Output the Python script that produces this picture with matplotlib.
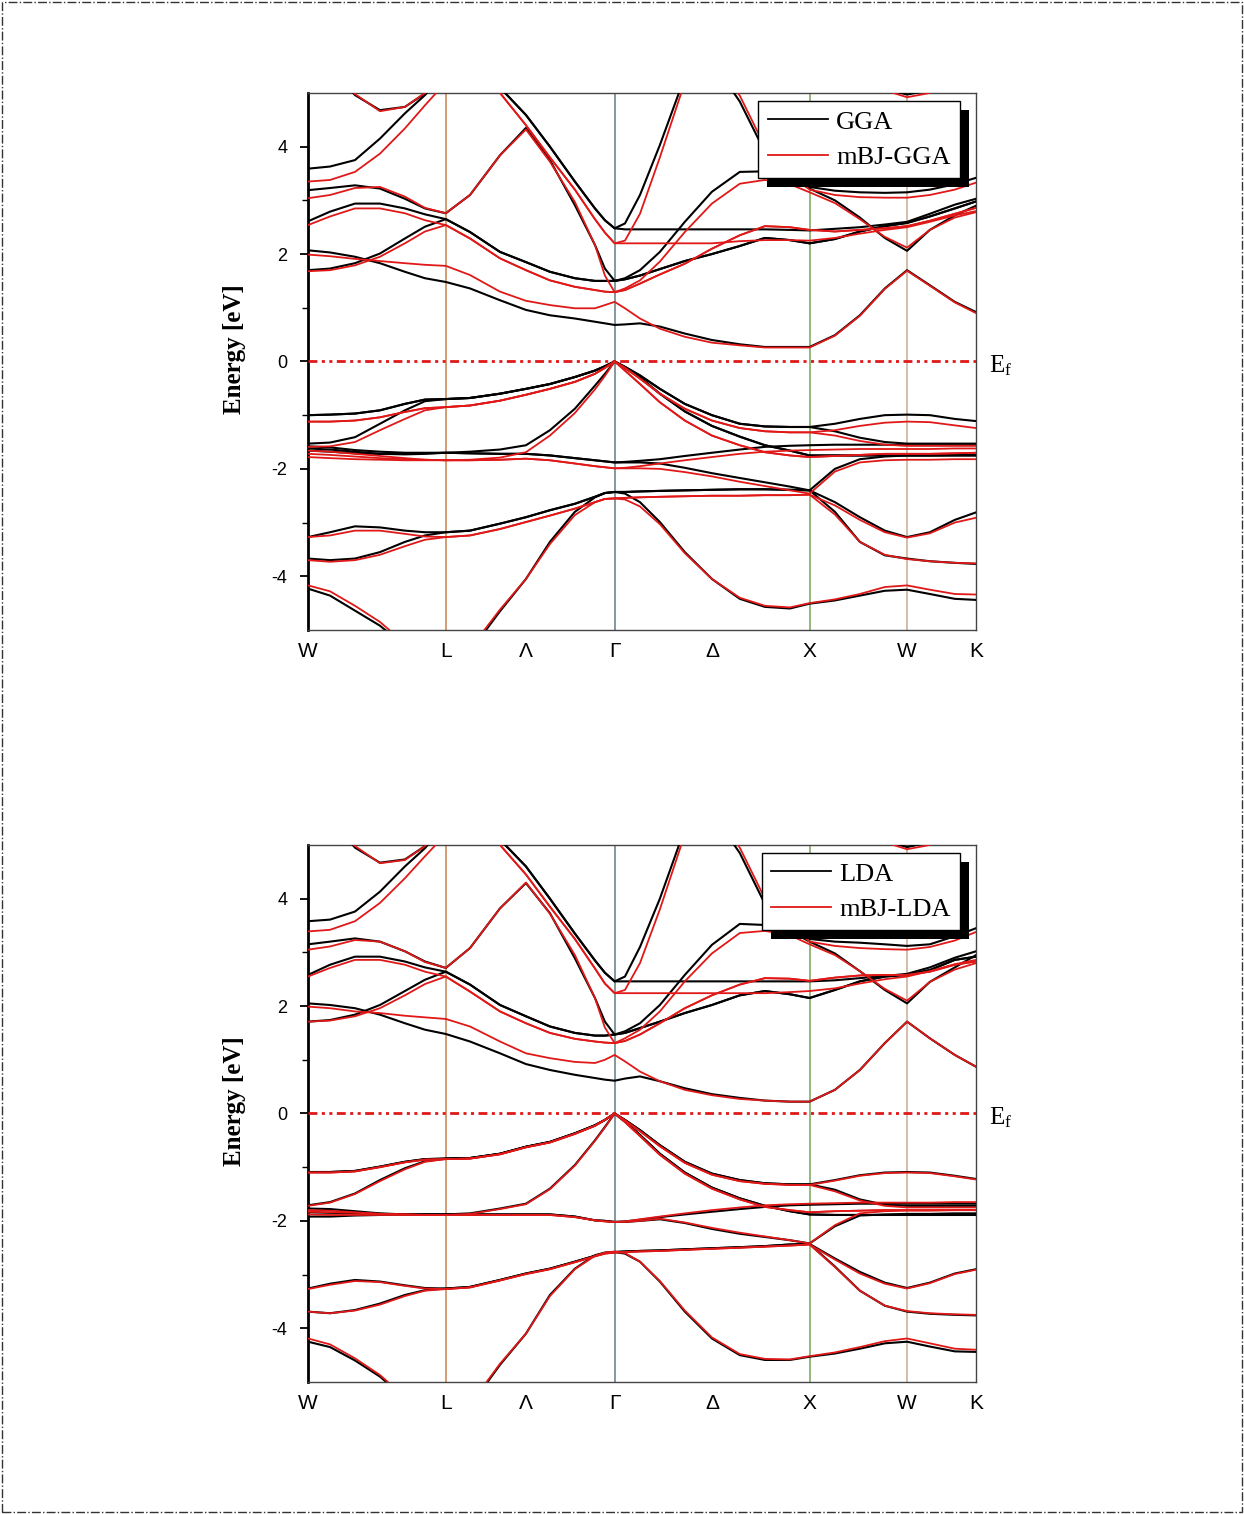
import numpy as np
import matplotlib
matplotlib.use("Agg")
import matplotlib.pyplot as plt
from matplotlib.lines import Line2D
from matplotlib.patches import Rectangle
from matplotlib.transforms import IdentityTransform

nan = np.nan

# k-path W-L-G-X-W-K (2pi/a units), sampling points along the path
k_path = [0.000, 0.113, 0.241, 0.369, 0.497, 0.600, 0.707,
          0.831, 0.985, 1.118, 1.241, 1.369, 1.472, 1.523, 1.573,
          1.626, 1.703, 1.805, 1.933, 2.072, 2.215, 2.344, 2.472, 2.573,
          2.703, 2.831, 2.959, 3.073, 3.190, 3.318, 3.427]
hs_k = [0.0, 0.707, 1.118, 1.573, 2.072, 2.573, 3.073, 3.427]
hs_labels = ['W', 'L', 'Λ', 'Γ', 'Δ', 'X', 'W', 'K']

# ---------------- GGA (top, black) ----------------
gga_v1 = [-4.23, -4.36, -4.64, -4.92, -5.30, -5.60, -5.80,
          -5.40, -4.65, -4.05, -3.36, -2.80, -2.53, -2.45, -2.43,
          -2.46, -2.62, -2.99, -3.55, -4.05, -4.42, -4.57, -4.60, -4.51,
          -4.45, -4.36, -4.27, -4.25, -4.33, -4.42, -4.44]
gga_v2 = [-3.67, -3.70, -3.67, -3.55, -3.36, -3.24, -3.18,
          -3.15, -3.02, -2.90, -2.77, -2.65, -2.52, -2.45, -2.43,
          -2.43, -2.42, -2.41, -2.40, -2.39, -2.38, -2.38, -2.39, -2.40,
          -2.80, -3.36, -3.61, -3.67, -3.72, -3.75, -3.77]
gga_v3 = [-3.27, -3.18, -3.07, -3.09, -3.15, -3.18, -3.18] + gga_v2[7:24] + \
         [-2.62, -2.90, -3.15, -3.27, -3.18, -2.95, -2.81]
gga_v4 = [-1.66, -1.68, -1.71, -1.72, -1.72, -1.71, -1.70,
          -1.71, -1.72, -1.72, -1.75, -1.80, -1.84, -1.86, -1.88,
          -1.88, -1.88, -1.90, -1.98, -2.08, -2.17, -2.25, -2.33, -2.40,
          -2.00, -1.82, -1.77, -1.75, -1.75, -1.74, -1.74]
gga_v5 = [-1.62, -1.64, -1.68, -1.72, -1.73, -1.72, -1.70,
          -1.71, -1.72, -1.72, -1.75, -1.80, -1.84, -1.86, -1.88,
          -1.87, -1.85, -1.82, -1.76, -1.70, -1.64, -1.59, -1.57, -1.56,
          -1.55, -1.55, -1.55, -1.56, -1.56, -1.56, -1.56]
gga_v6 = [-1.53, -1.51, -1.41, -1.16, -0.91, -0.74, -0.70,
          -0.68, -0.60, -0.51, -0.42, -0.29, -0.17, -0.09, 0.00,
          -0.12, -0.30, -0.60, -0.93, -1.20, -1.40, -1.56, -1.66, -1.75,
          -1.75, -1.75, -1.75, -1.75, -1.75, -1.75, -1.75]
gga_v7 = [-1.58, -1.60, -1.65, -1.68, -1.70, -1.70, -1.70,
          -1.68, -1.64, -1.56, -1.28, -0.88, -0.45, -0.23, 0.00] + gga_v6[15:]
gga_v8 = [-1.00, -0.99, -0.97, -0.91, -0.79, -0.71, -0.70,
          -0.68, -0.60, -0.51, -0.42, -0.29, -0.17, -0.09, 0.00,
          -0.10, -0.26, -0.51, -0.79, -1.00, -1.16, -1.21, -1.22, -1.22,
          -1.16, -1.07, -1.00, -0.99, -1.00, -1.07, -1.11]
gga_v9 = gga_v8[:24] + [-1.30, -1.42, -1.50, -1.53, -1.53, -1.53, -1.53]

gga_c1 = [2.07, 2.03, 1.95, 1.83, 1.67, 1.55, 1.48,
          1.36, 1.14, 0.96, 0.86, 0.80, 0.74, 0.71, 0.68,
          0.69, 0.71, 0.65, 0.52, 0.40, 0.32, 0.27, 0.27, 0.27,
          0.49, 0.86, 1.36, 1.70, 1.42, 1.11, 0.92]
gga_c2 = [1.70, 1.73, 1.83, 2.01, 2.29, 2.51, 2.65,
          2.41, 2.04, 1.85, 1.67, 1.55, 1.50, 1.50, 1.50,
          1.53, 1.60, 1.72, 1.87, 2.00, 2.15, 2.30, 2.26, 2.20,
          2.28, 2.42, 2.52, 2.58, 2.70, 2.85, 2.98]
gga_c3 = [2.61, 2.79, 2.94, 2.94, 2.85, 2.74, 2.65] + gga_c2[7:15] + \
         [1.55, 1.70, 2.04, 2.60, 3.16, 3.53, 3.54, 3.42, 3.22,
          3.00, 2.68, 2.30, 2.06, 2.45, 2.72, 2.90]
gga_c4 = [3.19, 3.23, 3.28, 3.22, 3.03, 2.85, 2.76,
          3.10, 3.84, 4.35, 3.75, 2.91, 2.17, 1.73, 1.50] + gga_c2[15:]
gga_c5 = [nan] * 6 + [6.2, 5.7, 5.1, 4.59, 4.00, 3.35, 2.85, 2.63, 2.48,
                      2.46, 2.46, 2.46, 2.46, 2.46, 2.46, 2.46, 2.45, 2.44,
                      2.47, 2.50, 2.55, 2.60, 2.75, 2.92, 3.03]
gga_c6 = gga_c5[:15] + [2.57, 3.10, 4.03, 5.30] + [nan] * 12
gga_c7 = [nan] * 19 + [5.6, 4.84, 3.90, 3.45, 3.25, 3.18, 3.15, 3.14, 3.15, 3.20, 3.30, 3.42]
gga_c8 = [3.59, 3.63, 3.75, 4.15, 4.62, 4.96, 5.40] + [nan] * 24
gga_c9 = [nan, 5.50, 4.96, 4.68, 4.74, 4.99, 5.40] + [nan] * 24
gga_c10 = [nan] * 25 + [5.60, 5.08, 4.97, 5.05, 5.60, nan]

# ---------------- mBJ-GGA (top, red) ----------------
mgga_v1 = [-4.17, -4.28, -4.55, -4.85, -5.25, -5.55, -5.75,
           -5.35, -4.62, -4.05, -3.40, -2.86, -2.62, -2.56, -2.55,
           -2.57, -2.70, -3.03, -3.57, -4.05, -4.40, -4.55, -4.58, -4.50,
           -4.43, -4.33, -4.20, -4.17, -4.25, -4.33, -4.34]
mgga_v2 = [-3.70, -3.73, -3.70, -3.60, -3.44, -3.32, -3.27,
           -3.24, -3.12, -2.99, -2.87, -2.74, -2.62, -2.56, -2.55,
           -2.54, -2.53, -2.52, -2.51, -2.50, -2.50, -2.49, -2.49, -2.48,
           -2.85, -3.36, -3.60, -3.68, -3.72, -3.75, -3.76]
mgga_v3 = [-3.27, -3.24, -3.15, -3.15, -3.21, -3.26, -3.27] + mgga_v2[7:24] + \
          [-2.68, -2.95, -3.18, -3.28, -3.20, -3.00, -2.91]
mgga_v4 = [-1.78, -1.80, -1.82, -1.83, -1.84, -1.84, -1.84,
           -1.84, -1.83, -1.81, -1.84, -1.90, -1.95, -1.97, -1.99,
           -1.99, -1.99, -2.00, -2.06, -2.14, -2.24, -2.32, -2.40, -2.46,
           -2.05, -1.88, -1.84, -1.83, -1.83, -1.82, -1.82]
mgga_v5 = [-1.72, -1.74, -1.77, -1.80, -1.82, -1.83, -1.84,
           -1.84, -1.83, -1.81, -1.84, -1.90, -1.95, -1.97, -1.99,
           -1.98, -1.95, -1.90, -1.84, -1.78, -1.72, -1.68, -1.66, -1.65,
           -1.64, -1.63, -1.63, -1.63, -1.63, -1.62, -1.62]
mgga_v6 = [-1.59, -1.58, -1.50, -1.28, -1.07, -0.91, -0.85,
           -0.82, -0.73, -0.62, -0.51, -0.38, -0.23, -0.12, 0.00,
           -0.17, -0.42, -0.76, -1.10, -1.38, -1.56, -1.69, -1.75, -1.78,
           -1.76, -1.74, -1.72, -1.72, -1.72, -1.71, -1.70]
mgga_v7 = [-1.66, -1.68, -1.72, -1.76, -1.80, -1.83, -1.84,
           -1.83, -1.79, -1.69, -1.38, -0.96, -0.52, -0.27, 0.00] + mgga_v6[15:]
mgga_v8 = [-1.12, -1.12, -1.10, -1.04, -0.94, -0.87, -0.85,
           -0.82, -0.73, -0.62, -0.51, -0.38, -0.23, -0.12, 0.00,
           -0.12, -0.32, -0.60, -0.88, -1.10, -1.24, -1.30, -1.32, -1.32,
           -1.28, -1.20, -1.14, -1.12, -1.13, -1.19, -1.24]
mgga_v9 = mgga_v8[:24] + [-1.38, -1.48, -1.55, -1.57, -1.57, -1.57, -1.57]

mgga_c1 = [1.99, 1.96, 1.91, 1.87, 1.83, 1.80, 1.78,
           1.61, 1.30, 1.13, 1.05, 0.99, 0.99, 1.05, 1.11,
           0.99, 0.80, 0.61, 0.46, 0.35, 0.30, 0.26, 0.26, 0.26,
           0.48, 0.85, 1.35, 1.69, 1.41, 1.10, 0.90]
mgga_c2 = [1.68, 1.70, 1.79, 1.95, 2.20, 2.42, 2.54,
           2.29, 1.92, 1.70, 1.51, 1.39, 1.33, 1.30, 1.29,
           1.33, 1.45, 1.62, 1.82, 2.10, 2.35, 2.52, 2.50, 2.45,
           2.42, 2.45, 2.48, 2.52, 2.62, 2.75, 2.86]
mgga_c3 = [2.54, 2.70, 2.85, 2.85, 2.76, 2.63, 2.54] + mgga_c2[7:15] + \
          [1.36, 1.51, 1.86, 2.41, 2.94, 3.31, 3.38, 3.30, 3.15,
           2.95, 2.65, 2.32, 2.12, 2.45, 2.68, 2.78]
mgga_c4 = [3.04, 3.10, 3.23, 3.25, 3.07, 2.86, 2.76,
           3.10, 3.84, 4.32, 3.72, 2.97, 2.17, 1.60, 1.29] + mgga_c2[15:]
mgga_c5 = [nan] * 6 + [6.2, 5.7, 5.0, 4.40, 3.80, 3.20, 2.65, 2.40, 2.20,
                       2.20, 2.20, 2.20, 2.20, 2.20, 2.24, 2.26, 2.26, 2.25,
                       2.30, 2.38, 2.45, 2.50, 2.60, 2.72, 2.80]
mgga_c6 = mgga_c5[:15] + [2.25, 2.75, 3.80, 5.20] + [nan] * 12
mgga_c7 = [nan] * 19 + [5.7, 4.95, 4.00, 3.50, 3.20, 3.10, 3.06, 3.05, 3.05, 3.10, 3.20, 3.33]
mgga_c8 = [3.35, 3.38, 3.53, 3.87, 4.34, 4.77, 5.20] + [nan] * 24
mgga_c9 = [nan, 5.45, 4.98, 4.66, 4.74, 5.00, 5.45] + [nan] * 24
mgga_c10 = [nan] * 25 + [5.50, 5.05, 4.92, 5.00, 5.50, nan]

# ---------------- LDA (bottom, black) ----------------
lda_v1 = [-4.25, -4.35, -4.60, -4.90, -5.30, -5.60, -5.80,
          -5.45, -4.68, -4.10, -3.38, -2.89, -2.64, -2.59, -2.58,
          -2.61, -2.76, -3.13, -3.69, -4.19, -4.50, -4.59, -4.59, -4.53,
          -4.47, -4.38, -4.28, -4.25, -4.34, -4.43, -4.44]
lda_v2 = [-3.69, -3.72, -3.66, -3.54, -3.38, -3.29, -3.26,
          -3.23, -3.10, -2.98, -2.89, -2.76, -2.65, -2.60, -2.58,
          -2.57, -2.56, -2.55, -2.53, -2.51, -2.49, -2.47, -2.44, -2.43,
          -2.85, -3.30, -3.58, -3.69, -3.73, -3.75, -3.76]
lda_v3 = [-3.26, -3.17, -3.10, -3.13, -3.20, -3.25, -3.26] + lda_v2[7:24] + \
         [-2.70, -2.95, -3.15, -3.25, -3.15, -2.98, -2.90]
lda_v4 = [-1.77, -1.78, -1.82, -1.86, -1.88, -1.88, -1.88,
          -1.88, -1.88, -1.88, -1.88, -1.92, -1.99, -2.00, -2.02,
          -2.02, -2.00, -1.97, -2.04, -2.15, -2.24, -2.30, -2.36, -2.42,
          -2.10, -1.90, -1.88, -1.87, -1.87, -1.86, -1.86]
lda_v5 = [-1.92, -1.92, -1.90, -1.89, -1.88, -1.88, -1.88,
          -1.88, -1.88, -1.88, -1.88, -1.92, -1.99, -2.00, -2.02,
          -2.01, -1.98, -1.93, -1.88, -1.83, -1.78, -1.74, -1.71, -1.70,
          -1.69, -1.68, -1.68, -1.68, -1.68, -1.68, -1.68]
lda_v6 = [-1.71, -1.65, -1.49, -1.24, -1.02, -0.89, -0.84,
          -0.83, -0.75, -0.62, -0.53, -0.37, -0.22, -0.12, 0.00,
          -0.15, -0.40, -0.75, -1.10, -1.38, -1.58, -1.72, -1.82, -1.88,
          -1.89, -1.89, -1.89, -1.89, -1.89, -1.89, -1.89]
lda_v7 = [-1.84, -1.85, -1.86, -1.87, -1.88, -1.88, -1.88,
          -1.86, -1.77, -1.68, -1.40, -0.96, -0.50, -0.25, 0.00] + lda_v6[15:]
lda_v8 = [-1.09, -1.09, -1.07, -0.99, -0.90, -0.85, -0.84,
          -0.83, -0.75, -0.62, -0.53, -0.37, -0.22, -0.12, 0.00,
          -0.12, -0.31, -0.59, -0.90, -1.12, -1.24, -1.30, -1.32, -1.32,
          -1.24, -1.15, -1.10, -1.09, -1.10, -1.16, -1.22]
lda_v9 = lda_v8[:24] + [-1.42, -1.60, -1.70, -1.72, -1.72, -1.72, -1.72]

lda_c1 = [2.05, 2.02, 1.96, 1.84, 1.68, 1.56, 1.48,
          1.34, 1.12, 0.92, 0.81, 0.72, 0.66, 0.63, 0.61,
          0.65, 0.69, 0.60, 0.47, 0.36, 0.29, 0.24, 0.22, 0.22,
          0.44, 0.81, 1.31, 1.71, 1.40, 1.09, 0.87]
lda_c2 = [1.71, 1.74, 1.84, 2.02, 2.28, 2.49, 2.64,
          2.40, 2.02, 1.81, 1.62, 1.50, 1.45, 1.45, 1.47,
          1.50, 1.59, 1.71, 1.87, 2.02, 2.20, 2.28, 2.22, 2.15,
          2.30, 2.46, 2.55, 2.58, 2.67, 2.86, 2.92]
lda_c3 = [2.58, 2.77, 2.92, 2.92, 2.83, 2.72, 2.64] + lda_c2[7:15] + \
         [1.53, 1.68, 2.02, 2.58, 3.14, 3.53, 3.51, 3.40, 3.20,
          2.98, 2.65, 2.30, 2.05, 2.45, 2.72, 2.95]
lda_c4 = [3.15, 3.20, 3.26, 3.20, 3.02, 2.83, 2.71,
          3.08, 3.82, 4.29, 3.73, 2.89, 2.15, 1.71, 1.47] + lda_c2[15:]
lda_c5 = [nan] * 6 + [6.2, 5.7, 5.1, 4.60, 4.00, 3.35, 2.85, 2.62, 2.46,
                      2.46, 2.46, 2.46, 2.46, 2.46, 2.46, 2.46, 2.46, 2.46,
                      2.48, 2.52, 2.56, 2.60, 2.72, 2.90, 3.02]
lda_c6 = lda_c5[:15] + [2.55, 3.10, 4.00, 5.30] + [nan] * 12
lda_c7 = [nan] * 19 + [5.6, 4.85, 3.90, 3.45, 3.25, 3.20, 3.18, 3.15, 3.12, 3.15, 3.30, 3.45]
lda_c8 = [3.58, 3.61, 3.76, 4.13, 4.60, 4.94, 5.40] + [nan] * 24
lda_c9 = [nan, 5.50, 4.95, 4.67, 4.73, 4.98, 5.40] + [nan] * 24
lda_c10 = [nan] * 25 + [5.60, 5.08, 4.96, 5.05, 5.60, nan]

# ---------------- mBJ-LDA (bottom, red) ----------------
mlda_v1 = [-4.19, -4.30, -4.56, -4.87, -5.28, -5.58, -5.78,
           -5.42, -4.66, -4.10, -3.40, -2.90, -2.65, -2.59, -2.57,
           -2.60, -2.76, -3.12, -3.67, -4.17, -4.48, -4.57, -4.58, -4.52,
           -4.45, -4.35, -4.24, -4.19, -4.28, -4.38, -4.40]
mlda_v2 = [-3.69, -3.72, -3.67, -3.56, -3.40, -3.30, -3.27,
           -3.24, -3.11, -2.99, -2.90, -2.77, -2.66, -2.61, -2.59,
           -2.58, -2.57, -2.56, -2.54, -2.52, -2.50, -2.48, -2.46, -2.44,
           -2.86, -3.30, -3.58, -3.68, -3.72, -3.74, -3.75]
mlda_v3 = [-3.27, -3.19, -3.12, -3.14, -3.21, -3.26, -3.27] + mlda_v2[7:24] + \
          [-2.72, -2.98, -3.17, -3.26, -3.16, -2.99, -2.91]
mlda_v4 = [-1.80, -1.81, -1.84, -1.87, -1.88, -1.89, -1.89,
           -1.89, -1.89, -1.89, -1.89, -1.93, -1.99, -2.01, -2.02,
           -2.02, -2.00, -1.96, -2.03, -2.13, -2.22, -2.29, -2.36, -2.42,
           -2.08, -1.86, -1.82, -1.81, -1.81, -1.80, -1.80]
mlda_v5 = [-1.88, -1.89, -1.89, -1.89, -1.89, -1.89, -1.89,
           -1.89, -1.89, -1.89, -1.89, -1.93, -1.99, -2.01, -2.02,
           -2.01, -1.97, -1.92, -1.86, -1.80, -1.75, -1.71, -1.69, -1.68,
           -1.67, -1.66, -1.66, -1.66, -1.66, -1.65, -1.65]
mlda_v6 = [-1.72, -1.66, -1.50, -1.26, -1.04, -0.90, -0.85,
           -0.84, -0.76, -0.63, -0.54, -0.38, -0.23, -0.12, 0.00,
           -0.16, -0.42, -0.77, -1.12, -1.40, -1.60, -1.74, -1.80, -1.84,
           -1.82, -1.81, -1.80, -1.80, -1.80, -1.80, -1.80]
mlda_v7 = [-1.83, -1.84, -1.85, -1.87, -1.88, -1.89, -1.89,
           -1.87, -1.78, -1.69, -1.41, -0.97, -0.51, -0.26, 0.00] + mlda_v6[15:]
mlda_v8 = [-1.10, -1.10, -1.08, -1.00, -0.91, -0.86, -0.85,
           -0.84, -0.76, -0.63, -0.54, -0.38, -0.23, -0.12, 0.00,
           -0.13, -0.33, -0.61, -0.92, -1.14, -1.26, -1.31, -1.33, -1.33,
           -1.25, -1.16, -1.11, -1.10, -1.11, -1.17, -1.23]
mlda_v9 = mlda_v8[:24] + [-1.45, -1.62, -1.72, -1.75, -1.75, -1.75, -1.75]

mlda_c1 = [1.99, 1.96, 1.90, 1.87, 1.82, 1.79, 1.76,
           1.62, 1.34, 1.12, 1.03, 0.96, 0.94, 1.00, 1.09,
           0.97, 0.78, 0.60, 0.44, 0.34, 0.27, 0.24, 0.22, 0.22,
           0.44, 0.81, 1.31, 1.71, 1.40, 1.09, 0.87]
mlda_c2 = [1.71, 1.73, 1.81, 1.96, 2.20, 2.41, 2.55,
           2.27, 1.90, 1.68, 1.50, 1.39, 1.34, 1.32, 1.31,
           1.35, 1.47, 1.68, 1.96, 2.20, 2.40, 2.52, 2.51, 2.47,
           2.53, 2.57, 2.58, 2.58, 2.64, 2.77, 2.83]
mlda_c3 = [2.55, 2.71, 2.86, 2.86, 2.77, 2.64, 2.55] + mlda_c2[7:15] + \
          [1.40, 1.56, 1.90, 2.46, 2.98, 3.36, 3.40, 3.32, 3.15,
           2.95, 2.65, 2.32, 2.10, 2.45, 2.68, 2.80]
mlda_c4 = [3.05, 3.11, 3.23, 3.20, 3.02, 2.82, 2.71,
           3.08, 3.82, 4.30, 3.72, 2.95, 2.15, 1.60, 1.31] + mlda_c2[15:]
mlda_c5 = [nan] * 6 + [6.2, 5.7, 5.0, 4.45, 3.85, 3.25, 2.70, 2.42, 2.24,
                       2.24, 2.24, 2.24, 2.24, 2.24, 2.24, 2.24, 2.26, 2.28,
                       2.33, 2.42, 2.50, 2.55, 2.65, 2.78, 2.86]
mlda_c6 = mlda_c5[:15] + [2.30, 2.80, 3.80, 5.20] + [nan] * 12
mlda_c7 = [nan] * 19 + [5.7, 4.95, 4.00, 3.50, 3.20, 3.12, 3.08, 3.06, 3.05, 3.10, 3.22, 3.38]
mlda_c8 = [3.39, 3.42, 3.58, 3.92, 4.38, 4.79, 5.20] + [nan] * 24
mlda_c9 = [nan, 5.45, 4.98, 4.66, 4.72, 4.98, 5.45] + [nan] * 24
mlda_c10 = [nan] * 25 + [5.50, 5.05, 4.92, 5.00, 5.50, nan]

gga_bands = [gga_v1, gga_v2, gga_v3, gga_v4, gga_v5, gga_v6, gga_v7, gga_v8, gga_v9,
             gga_c1, gga_c2, gga_c3, gga_c4, gga_c5, gga_c6, gga_c7, gga_c8, gga_c9, gga_c10]
mgga_bands = [mgga_v1, mgga_v2, mgga_v3, mgga_v4, mgga_v5, mgga_v6, mgga_v7, mgga_v8, mgga_v9,
              mgga_c1, mgga_c2, mgga_c3, mgga_c4, mgga_c5, mgga_c6, mgga_c7, mgga_c8, mgga_c9, mgga_c10]
lda_bands = [lda_v1, lda_v2, lda_v3, lda_v4, lda_v5, lda_v6, lda_v7, lda_v8, lda_v9,
             lda_c1, lda_c2, lda_c3, lda_c4, lda_c5, lda_c6, lda_c7, lda_c8, lda_c9, lda_c10]
mlda_bands = [mlda_v1, mlda_v2, mlda_v3, mlda_v4, mlda_v5, mlda_v6, mlda_v7, mlda_v8, mlda_v9,
              mlda_c1, mlda_c2, mlda_c3, mlda_c4, mlda_c5, mlda_c6, mlda_c7, mlda_c8, mlda_c9, mlda_c10]

RED = '#e01818'
SERIF = 'Liberation Serif'
SANS = 'Liberation Sans'
plt.rcParams['axes.unicode_minus'] = False
plt.rcParams['mathtext.fontset'] = 'custom'
plt.rcParams['mathtext.rm'] = SERIF


def draw_panel(ax, black_bands, red_bands, names):
    # vertical lines at high-symmetry points
    for kv, c in zip([hs_k[1], hs_k[3], hs_k[5], hs_k[6]],
                     ['#c8804e', '#5f7f84', '#7aa35a', '#c9ab92']):
        ax.axvline(kv, color=c, lw=1.1, zorder=1)
    for b in black_bands:
        ax.plot(k_path, b, color='black', lw=1.5, zorder=3, solid_joinstyle='round')
    for b in red_bands:
        ax.plot(k_path, b, color=RED, lw=1.3, zorder=4, solid_joinstyle='round')
    # Fermi level
    ax.axhline(0, color=RED, lw=2.0, zorder=5,
               linestyle=(0, (3.2, 1.6, 1.1, 1.6, 1.1, 1.6)))
    ax.text(1.02, -0.07, r'$\mathregular{E_f}$', transform=ax.get_yaxis_transform(),
            fontsize=18, family=SERIF, va='center', ha='left')

    ax.set_xlim(hs_k[0], hs_k[-1])
    ax.set_ylim(-5, 5)
    ax.set_xticks(hs_k)
    ax.set_xticklabels(hs_labels, fontsize=15, family=SANS)
    ax.set_yticks([-4, -2, 0, 2, 4])
    ax.set_yticks([-3, -1, 1, 3], minor=True)
    for t in ax.get_yticklabels():
        t.set_family(SANS)
        t.set_fontsize(13)
    ax.tick_params(axis='x', length=0, pad=9)
    ax.tick_params(axis='y', which='major', direction='out', length=6, width=1.3, pad=9)
    ax.tick_params(axis='y', which='minor', direction='out', length=4, width=1.0)
    for side in ['top', 'right', 'bottom']:
        ax.spines[side].set_linewidth(1.0)
        ax.spines[side].set_color('#444444')
    ax.spines['left'].set_linewidth(2.0)

    ax.set_ylabel('Energy [eV]', family=SERIF, fontweight='bold', fontsize=18)
    ax.yaxis.set_label_coords(-0.093, 0.523)

    handles = [Line2D([], [], color='black', lw=1.3), Line2D([], [], color=RED, lw=1.3)]
    leg = ax.legend(handles, names, loc='upper right', bbox_to_anchor=(0.976, 0.985),
                    prop={'family': SERIF, 'size': 19}, frameon=True, fancybox=False,
                    framealpha=1, edgecolor='black', handlelength=2.3, handletextpad=0.3,
                    borderpad=0.35, labelspacing=0.45, borderaxespad=0)
    leg.get_frame().set_linewidth(1.0)
    leg.set_zorder(10)
    return leg


fig = plt.figure(figsize=(12.44, 15.14), dpi=100)
ax1 = fig.add_axes([0.2476, 0.5839, 0.537, 0.3547])
ax2 = fig.add_axes([0.2476, 0.0872, 0.537, 0.3547])

leg1 = draw_panel(ax1, gga_bands, mgga_bands, ['GGA', 'mBJ-GGA'])
leg2 = draw_panel(ax2, lda_bands, mlda_bands, ['LDA', 'mBJ-LDA'])

# outer dash-dot frame
fig.add_artist(Rectangle((0.002, 0.0015), 0.996, 0.997, transform=fig.transFigure,
                         fill=False, ls='-.', lw=1.0, ec='#333333'))

# solid black shadow behind the legends
fig.canvas.draw()
for ax, leg in [(ax1, leg1), (ax2, leg2)]:
    bb = leg.get_window_extent()
    ax.add_patch(Rectangle((bb.x0 + 9, bb.y0 - 9), bb.width, bb.height,
                           transform=IdentityTransform(), fc='black', ec='none',
                           zorder=9.5, clip_on=False))

fig.savefig('out.png', dpi=100)
